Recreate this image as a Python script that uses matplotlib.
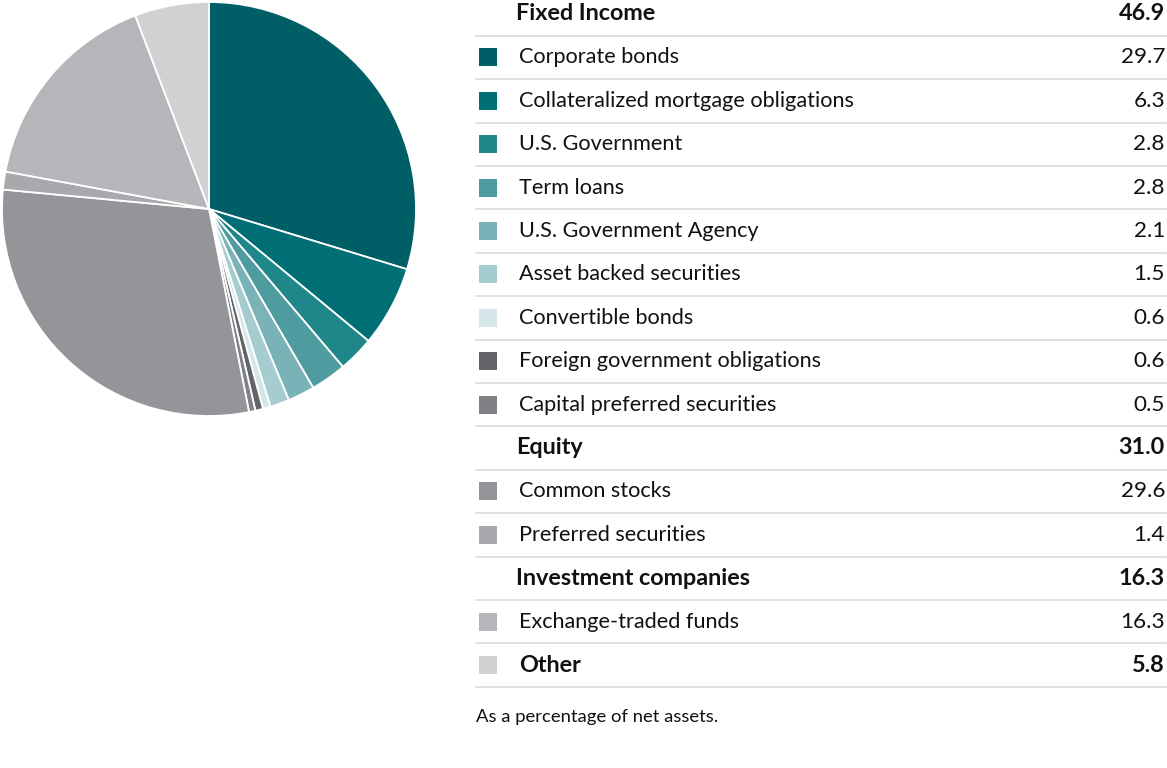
import matplotlib
matplotlib.use("Agg")
import matplotlib.pyplot as plt
from matplotlib.patches import Rectangle

categories = ["Corporate bonds", "Collateralized mortgage obligations", "U.S. Government",
              "Term loans", "U.S. Government Agency", "Asset backed securities",
              "Convertible bonds", "Foreign government obligations", "Capital preferred securities",
              "Common stocks", "Preferred securities", "Exchange-traded funds", "Other"]
values = [29.7, 6.3, 2.8, 2.8, 2.1, 1.5, 0.6, 0.6, 0.5, 29.6, 1.4, 16.3, 5.8]
colors = ["#005F66", "#006E75", "#1F8689", "#4F9CA0", "#7AB3B7", "#A5CDD0",
          "#D5E6E8", "#636468", "#808185", "#939598", "#A7A9AC", "#B5B6BA", "#D0D1D3"]

groups = ["Fixed Income", "Equity", "Investment companies"]
group_totals = [46.9, 31.0, 16.3]
group_members = [9, 2, 1]  # number of items in each group; "Other" is a standalone bold row

W, H = 1167, 768
fig = plt.figure(figsize=(W / 100, H / 100), dpi=100)
FONT = "Lato"

# Pie
ax = fig.add_axes([2 / W, (H - 416) / H, 414 / W, 414 / H])
ax.pie(values, colors=colors, startangle=90, counterclock=False,
       wedgeprops=dict(edgecolor="white", linewidth=1.3))
ax.set_xlim(-1.0, 1.0)
ax.set_ylim(-1.0, 1.0)
ax.set_aspect("equal")
ax.axis("off")

# Table (pixel coordinates, y from top)
def px(x, y):
    return x / W, 1 - y / H

x0, x1 = 476, 1166
row_h = 43.4
y_first = 14
line_color = "#DADADA"

rows = []
idx = 0
for g, tot, n in zip(groups, group_totals, group_members):
    rows.append(("header", g, tot, None))
    for _ in range(n):
        rows.append(("item", categories[idx], values[idx], colors[idx]))
        idx += 1
rows.append(("other", categories[idx], values[idx], colors[idx]))

for i, (kind, label, val, col) in enumerate(rows):
    yc = y_first + i * row_h
    bold = kind in ("header", "other")
    tx = 516 if kind == "header" else 519
    fs = 16.8 if bold else 15.6
    fig.text(*px(tx, yc), label, fontsize=fs, family=FONT,
             fontweight="bold" if bold else "normal", va="center", ha="left", color="#111111")
    fig.text(*px(1165, yc), f"{val:.1f}", fontsize=16.8 if bold else 16.2, family=FONT,
             fontweight="bold" if bold else "normal", va="center", ha="right", color="#111111")
    if col is not None:
        fig.patches.append(Rectangle(px(479, yc + 9), 18 / W, 18 / H, transform=fig.transFigure,
                                     facecolor=col, edgecolor="none"))
    ly = yc + row_h / 2
    fig.add_artist(plt.Line2D([x0 / W, x1 / W], [1 - ly / H, 1 - ly / H],
                              transform=fig.transFigure, color=line_color, lw=1.2))

fig.text(*px(476, 717), "As a percentage of net assets.", fontsize=13.3, family=FONT,
         va="center", ha="left", color="#111111")

fig.savefig("out.png", dpi=100, facecolor="white")
